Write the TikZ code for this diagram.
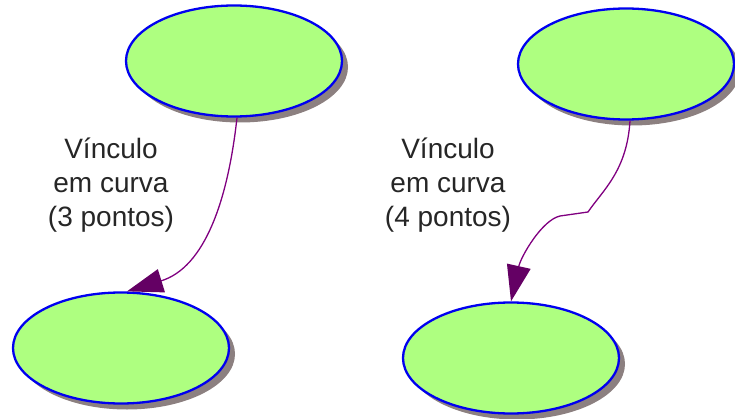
\documentclass[tikz,border=0pt]{standalone}
\usepackage{fontspec}
\setmainfont{Liberation Sans}
\usetikzlibrary{shapes.geometric,shadows,arrows.meta}
\definecolor{nodefill}{RGB}{174,255,128}
\definecolor{nodeline}{RGB}{0,0,240}
\definecolor{shadowgray}{RGB}{140,128,128}
\definecolor{linkcol}{RGB}{128,0,128}
\definecolor{tipcol}{RGB}{100,0,100}
\tikzset{
  concept/.style={ellipse, fill=nodefill, draw=nodeline, line width=2.3pt,
    minimum width=216pt, minimum height=111pt, inner sep=0pt,
    drop shadow={shadow xshift=6pt, shadow yshift=-6pt, fill=shadowgray, opacity=1}},
  link/.style={draw=linkcol, line width=1.3pt,
    -{Triangle[length=36pt, width=24pt, fill=tipcol, color=tipcol]}},
  label/.style={align=center, font=\fontsize{28}{34}\selectfont, text=black!85}
}
\begin{document}
\begin{tikzpicture}[x=1pt,y=1pt]
\useasboundingbox (0,0) rectangle (735,418);
\node[concept] (tl) at (234,357) {};
\node[concept] (bl) at (121,70) {};
\node[concept] (tr) at (626,354) {};
\node[concept] (br) at (511,60) {};
\node[label] (t1) at (111,233) {Vínculo\\em curva\\(3 pontos)};
\node[label] (t2) at (448,233) {Vínculo\\em curva\\(4 pontos)};
\draw[link] ([xshift=3pt]tl.south) .. controls +(-9,-82) and +(78,24) .. ([xshift=6pt]bl.north);
\coordinate (m1) at (588,206);
\coordinate (m2) at (560,202);
\draw[link] ([xshift=4pt]tr.south) .. controls +(-3,-50) and +(15,22) .. (m1)
  -- (m2) .. controls +(-18,-4) and +(10,45) .. (br.north);
\end{tikzpicture}
\end{document}
